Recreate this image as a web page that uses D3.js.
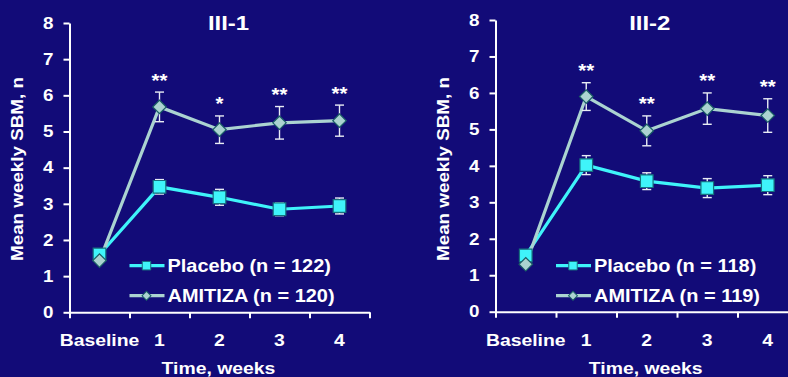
<!DOCTYPE html>
<html>
<head>
<meta charset="utf-8">
<script src="https://cdn.jsdelivr.net/npm/d3@7.9.0/dist/d3.min.js"></script>
<style>
  html, body { margin: 0; padding: 0; background: #120b78; }
  svg { display: block; font-family: "Liberation Sans", Arial, sans-serif; font-weight: bold; }
</style>
</head>
<body>
<svg id="chart" width="788" height="377"></svg>
<script>
// categories shared by both panels
const weeks = ["Baseline", "1", "2", "3", "4"];
const yTicks = [0, 1, 2, 3, 4, 5, 6, 7, 8];

// Study III-1
const placebo1 = [1.60, 3.47, 3.18, 2.85, 2.94];
const placeboErr1 = [0, 0.20, 0.22, 0.18, 0.22];
const amitiza1 = [1.43, 5.68, 5.05, 5.24, 5.30];
const amitizaErr1 = [0, 0.41, 0.38, 0.45, 0.43];
const stars1 = ["", "**", "*", "**", "**"];

// Study III-2
const placebo2 = [1.54, 4.02, 3.58, 3.39, 3.47];
const placeboErr2 = [0, 0.26, 0.23, 0.26, 0.26];
const amitiza2 = [1.30, 5.90, 4.96, 5.57, 5.38];
const amitizaErr2 = [0, 0.38, 0.41, 0.43, 0.46];
const stars2 = ["", "**", "**", "**", "**"];

const placeboColor = "#3ff4fa";
const amitizaColor = "#abd3d1";
const SX = 1.14; // the original slide is a bit wide, text included

const svg = d3.select("#chart");

// text placed with a translate + horizontal stretch
function wideText(parent, x, y, size, str, anchor) {
    return parent.append("text")
        .attr("transform", `translate(${x},${y}) scale(${SX},1)`)
        .attr("text-anchor", anchor || "start")
        .attr("fill", "#ffffff")
        .attr("font-size", size)
        .text(str);
}

function drawPanel(p) {
    const g = svg.append("g");

    const x = d3.scaleBand().domain(weeks).range([p.left, p.right]);
    const xEdges = d3.scaleLinear().domain([0, weeks.length]).range([p.left, p.right]);
    const y = d3.scaleLinear().domain([0, 8]).range([p.bottom, p.top]);
    const cx = d => x(d) + x.bandwidth() / 2;

    // y axis
    const yAxis = g.append("g")
        .attr("transform", `translate(${p.left},0)`)
        .call(d3.axisLeft(y).tickValues(yTicks).tickSize(6).tickSizeOuter(0).tickPadding(10));
    // x axis (ticks on band edges)
    const xAxis = g.append("g")
        .attr("transform", `translate(0,${p.bottom})`)
        .call(d3.axisBottom(xEdges).tickValues(d3.range(weeks.length + 1)).tickSize(6)
            .tickSizeOuter(0).tickFormat(""));
    [yAxis, xAxis].forEach(a => {
        a.selectAll("path, line").attr("stroke", "#ffffff").attr("stroke-width", 2);
    });
    yAxis.selectAll("text")
        .attr("x", 0)
        .attr("transform", `translate(-16,0) scale(${SX},1)`)
        .attr("fill", "#ffffff").attr("font-size", 16.5)
        .attr("font-family", "Liberation Sans, Arial, sans-serif").attr("font-weight", "bold");

    // category labels
    weeks.forEach(w => wideText(g, cx(w), p.bottom + 34, 17, w, "middle"));

    // titles
    wideText(g, (p.left + p.right) / 2 + p.titleShift, 30, 21, p.title, "middle");
    wideText(g, (p.left + p.right) / 2 - 1, 374, 17, "Time, weeks", "middle");

    g.append("text")
        .attr("transform", `translate(${p.left - 52},169) rotate(-90) scale(${SX},1)`)
        .attr("dy", "0.35em")
        .attr("text-anchor", "middle")
        .attr("fill", "#ffffff")
        .attr("font-size", 16.5)
        .text("Mean weekly SBM, n");

    const line = d3.line().x((d, i) => cx(weeks[i])).y(d => y(d));

    const series = [
        { vals: p.placebo, errs: p.placeboErr, color: placeboColor, shape: "square" },
        { vals: p.amitiza, errs: p.amitizaErr, color: amitizaColor, shape: "diamond" }
    ];

    // lines
    series.forEach(s => {
        g.append("path")
            .datum(s.vals)
            .attr("d", line)
            .attr("fill", "none")
            .attr("stroke", s.color)
            .attr("stroke-width", 3.2);
    });

    // error bars
    series.forEach(s => {
        const eb = g.append("g").attr("stroke", "#e8ecf4").attr("stroke-width", 1.4);
        s.vals.forEach((v, i) => {
            const e = s.errs[i];
            if (!e) return;
            const xc = cx(weeks[i]);
            eb.append("line").attr("x1", xc).attr("x2", xc).attr("y1", y(v - e)).attr("y2", y(v + e));
            [v - e, v + e].forEach(t => {
                eb.append("line").attr("x1", xc - 4.5).attr("x2", xc + 4.5).attr("y1", y(t)).attr("y2", y(t));
            });
        });
    });

    // markers
    series.forEach(s => {
        g.selectAll(null)
            .data(s.vals)
            .join("path")
            .attr("transform", (d, i) => s.shape === "square"
                ? `translate(${cx(weeks[i])},${y(d)})`
                : `translate(${cx(weeks[i])},${y(d)}) rotate(45)`)
            .attr("d", d3.symbol(d3.symbolSquare, s.shape === "square" ? 160 : 90)())
            .attr("fill", s.color)
            .attr("stroke", s.shape === "square" ? "#16717e" : "#1a5f66")
            .attr("stroke-width", 1.2);
    });

    // significance stars
    p.stars.forEach((st, i) => {
        if (!st) return;
        wideText(g, cx(weeks[i]), y(p.amitiza[i] + p.amitizaErr[i]) - 5.5, 18, st, "middle");
    });

    // legend
    const leg = g.append("g").attr("transform", `translate(${p.left + x.bandwidth()},0)`);
    const rows = [
        { label: p.labels[0], color: placeboColor, shape: "square", yy: 265.7 },
        { label: p.labels[1], color: amitizaColor, shape: "diamond", yy: 295.7 }
    ];
    rows.forEach(r => {
        leg.append("line").attr("x1", 0).attr("x2", 35).attr("y1", r.yy).attr("y2", r.yy)
            .attr("stroke", r.color).attr("stroke-width", 3.2);
        leg.append("path")
            .attr("transform", r.shape === "square"
                ? `translate(17,${r.yy})` : `translate(17,${r.yy}) rotate(45)`)
            .attr("d", d3.symbol(d3.symbolSquare, r.shape === "square" ? 72 : 40)())
            .attr("fill", r.color)
            .attr("stroke", r.shape === "square" ? "#16717e" : "#1a5f66")
            .attr("stroke-width", 1);
        wideText(leg, 38, r.yy + 6.3, 17.5, r.label);
    });
}

drawPanel({
    title: "III-1", titleShift: 9,
    left: 69.5, right: 369.5, top: 23, bottom: 312.3,
    placebo: placebo1, placeboErr: placeboErr1,
    amitiza: amitiza1, amitizaErr: amitizaErr1,
    stars: stars1,
    labels: ["Placebo (n = 122)", "AMITIZA (n = 120)"]
});

drawPanel({
    title: "III-2", titleShift: 3,
    left: 495.5, right: 798, top: 20, bottom: 311.7,
    placebo: placebo2, placeboErr: placeboErr2,
    amitiza: amitiza2, amitizaErr: amitizaErr2,
    stars: stars2,
    labels: ["Placebo (n = 118)", "AMITIZA (n = 119)"]
});
</script>
</body>
</html>
